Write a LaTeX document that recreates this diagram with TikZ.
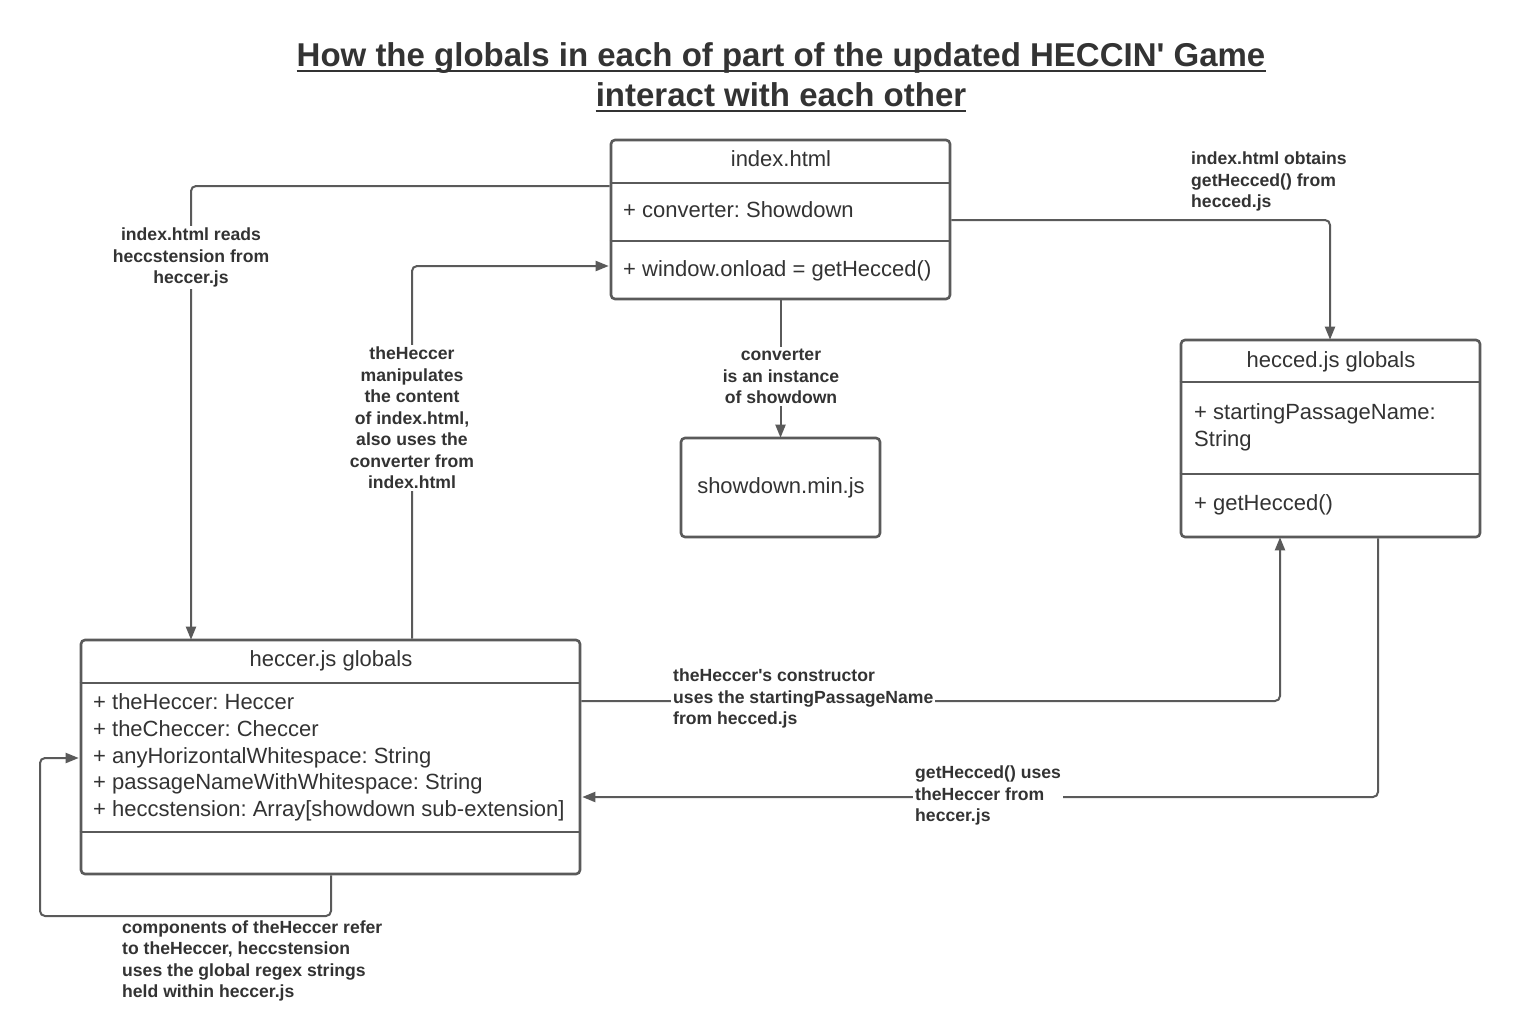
\documentclass[tikz,border=0pt]{standalone}
\usepackage{fontspec}
\setmainfont{Liberation Sans}
\usetikzlibrary{arrows.meta}
\definecolor{linec}{HTML}{5A5A5A}
\definecolor{txtc}{HTML}{333333}
\frenchspacing
\begin{document}
\begin{tikzpicture}[x=1pt,y=-1pt,
 box/.style={draw=linec, line width=2.6pt, rounded corners=4pt, inner sep=0pt, fill=white},
 divider/.style={draw=linec, line width=2.6pt},
 conn/.style={draw=linec, line width=2pt, rounded corners=5pt, -{Triangle[length=13pt,width=10pt]}},
 boxtxt/.style={text=txtc, font=\fontsize{22}{26}\selectfont, inner sep=0pt},
 lbl/.style={text=txtc, font=\bfseries\fontsize{17.6}{21.5}\selectfont, inner sep=2pt, fill=white},
 ttl/.style={text=txtc, font=\bfseries\fontsize{33}{40}\selectfont, inner sep=0pt},
]
\useasboundingbox (0,0) rectangle (1522,1017);
\fill[white] (0,0) rectangle (1522,1017);

% title
\node[ttl, anchor=base] (t1) at (781,66) {How the globals in each of part of the updated HECCIN\textquotesingle\ Game};
\node[ttl, anchor=base] (t2) at (781,106) {interact with each other};
\draw[txtc, line width=2.6pt] ([yshift=-5pt]t1.base west) -- ([yshift=-5pt]t1.base east);
\draw[txtc, line width=2.6pt] ([yshift=-5pt]t2.base west) -- ([yshift=-5pt]t2.base east);

% boxes
\node[box, minimum width=339pt, minimum height=159pt] (index) at (780.5,219.5) {};
\node[box, minimum width=199pt, minimum height=99pt] (showdown) at (780.5,487.5) {};
\node[box, minimum width=299pt, minimum height=197pt] (hecced) at (1330.5,438.5) {};
\node[box, minimum width=499pt, minimum height=234pt] (heccer) at (330.5,757) {};

% dividers
\draw[divider] (index.west |- 0,183) -- (index.east |- 0,183);
\draw[divider] (index.west |- 0,241) -- (index.east |- 0,241);
\draw[divider] (hecced.west |- 0,382) -- (hecced.east |- 0,382);
\draw[divider] (hecced.west |- 0,474) -- (hecced.east |- 0,474);
\draw[divider] (heccer.west |- 0,683) -- (heccer.east |- 0,683);
\draw[divider] (heccer.west |- 0,832) -- (heccer.east |- 0,832);

% box texts
\node[boxtxt, anchor=base] (indext) at (781,166) {index.html};
\node[boxtxt, anchor=base west] (indexa) at (623,217) {+ converter: Showdown};
\node[boxtxt, anchor=base west] (indexm) at (623,276) {+ window.onload = getHecced()};
\node[boxtxt, anchor=base] (showt) at (781,493) {showdown.min.js};
\node[boxtxt, anchor=base] (heccedt) at (1331,367) {hecced.js globals};
\node[boxtxt, anchor=base west] (hecceda) at (1194,419) {+ startingPassageName:};
\node[boxtxt, anchor=base west] (heccedb) at (1194,446) {String};
\node[boxtxt, anchor=base west] (heccedm) at (1194,510) {+ getHecced()};
\node[boxtxt, anchor=base] (heccert) at (331,666) {heccer.js globals};
\node[boxtxt, anchor=base west] (heccera) at (93,709) {+ theHeccer: Heccer};
\node[boxtxt, anchor=base west] (heccerb) at (93,736) {+ theCheccer: Checcer};
\node[boxtxt, anchor=base west] (heccerc) at (93,763) {+ anyHorizontalWhitespace: String};
\node[boxtxt, anchor=base west] (heccerd) at (93,789) {+ passageNameWithWhitespace: String};
\node[boxtxt, anchor=base west] (heccere) at (93,816) {+ heccstension: Array[showdown sub-extension]};

% connectors
\coordinate (loopc) at (40,916);
\draw[conn] (index.west |- 0,186) -| ([yshift=-1pt]heccer.north -| 191,0);
\draw[conn] (heccer.north -| 412,0) |- ([xshift=-1pt]index.west |- 0,266);
\draw[conn] (index.south) -- ([yshift=-1pt]showdown.north);
\draw[conn] (index.east |- 0,220) -| ([yshift=-1pt]hecced.north -| 1330,0);
\draw[conn] (heccer.east |- 0,701) -| ([yshift=1pt]hecced.south -| 1280,0);
\draw[conn] (hecced.south -| 1378,0) |- ([xshift=1pt]heccer.east |- 0,797);
\draw[conn] (heccer.south -| 331,0) |- (loopc) |- ([xshift=-1pt]heccer.west |- 0,758);

% labels
\node[lbl, align=center] (l1) at (191,257.5) {index.html reads\\heccstension from\\heccer.js};
\node[lbl, align=center] (l2) at (412,418) {theHeccer\\manipulates\\the content\\of index.html,\\also uses the\\converter from\\index.html};
\node[lbl, align=center] (l3) at (781,376.5) {converter\\is an instance\\of showdown};
\node[lbl, align=left, anchor=west] (l4) at (1189,181.5) {index.html obtains\\getHecced() from\\hecced.js};
\node[lbl, align=left, anchor=west] (l5) at (671,698.5) {theHeccer\textquotesingle s constructor\\uses the startingPassageName\\from hecced.js};
\node[lbl, align=left, anchor=west] (l6) at (913,795.5) {getHecced() uses\\theHeccer from\\heccer.js};
\node[lbl, align=left, anchor=west] (l7) at (120,961) {components of theHeccer refer\\to theHeccer, heccstension\\uses the global regex strings\\held within heccer.js};
\end{tikzpicture}
\end{document}
